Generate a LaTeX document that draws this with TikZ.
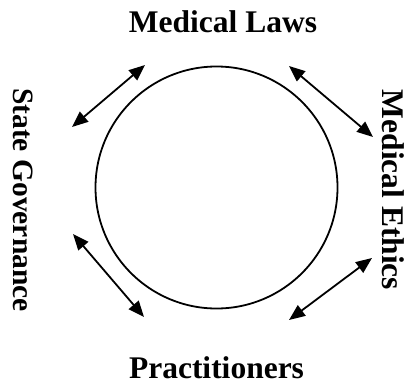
\documentclass[tikz,border=0pt]{standalone}
\usepackage{fontspec}
\setmainfont{Liberation Serif}
\usetikzlibrary{arrows.meta}
\tikzset{
  lbl/.style={font=\fontsize{31.5}{36}\selectfont\bfseries, inner sep=0pt, anchor=base},
  link/.style={line width=1.8pt, {Triangle[length=16pt,width=13pt]}-{Triangle[length=16pt,width=13pt]}},
  ring/.style={draw, line width=1.8pt}
}
\begin{document}
\begin{tikzpicture}[x=1pt,y=-1pt]
\useasboundingbox (0,0) rectangle (406,385);
\node[lbl] (laws) at (223,33) {Medical Laws};
\node[lbl] (prac) at (216.5,378) {Practitioners};
\node[lbl, rotate=-90, font=\fontsize{29.5}{34}\selectfont\bfseries] (gov) at (13,200) {State Governance};
\node[lbl, rotate=-90] (eth) at (382,190) {Medical Ethics};
\node[ring, circle, minimum size=242pt, inner sep=0pt] (c) at (216.5,187.5) {};
\coordinate (a1) at (145,65);
\coordinate (a2) at (72,127);
\coordinate (b1) at (289,66);
\coordinate (b2) at (373,137);
\coordinate (c1) at (73,234);
\coordinate (c2) at (144,317);
\coordinate (d1) at (372,258);
\coordinate (d2) at (289,320);
\draw[link] (a1) -- (a2);
\draw[link] (b1) -- (b2);
\draw[link] (c1) -- (c2);
\draw[link] (d1) -- (d2);
\end{tikzpicture}
\end{document}
